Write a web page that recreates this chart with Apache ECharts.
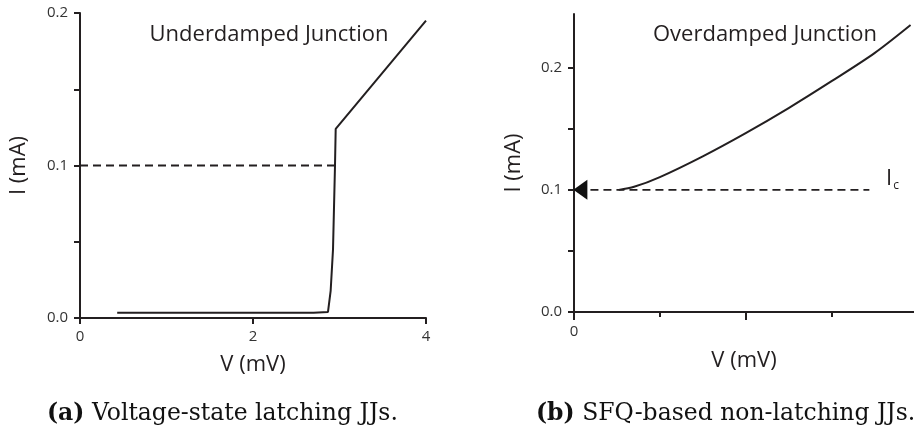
<!DOCTYPE html>
<html>
<head>
<meta charset="utf-8">
<script src="https://cdn.jsdelivr.net/npm/echarts@6/dist/echarts.min.js"></script>
<style>
  html, body { margin: 0; padding: 0; background: #fff; }
  #chart { width: 914px; height: 437px; }
</style>
</head>
<body>
<div id="chart"></div>
<script>
// (a) underdamped junction: I-V curve, V in mV, I in mA
var underCurve = [
  [0.43, 0.0035], [2.70, 0.0035], [2.70, 0.0040], [2.867, 0.0040],
  [2.898, 0.018], [2.925, 0.045], [2.948, 0.100], [2.956, 0.124],
  [4.00, 0.195]
];
var underIc = [[0, 0.1], [2.95, 0.1]];
var underXTicks = [0, 2, 4];
var underYTicks = [0, 0.05, 0.1, 0.15, 0.2];
var underYLabels = [0, 0.1, 0.2];

// (b) overdamped junction
var overCurve = [
  [0.26, 0.100], [0.35, 0.1025], [0.50, 0.1105], [0.75, 0.1275],
  [1.00, 0.1465], [1.25, 0.167], [1.50, 0.189], [1.75, 0.212],
  [1.96, 0.235]
];
var overIc = [[0.02, 0.1], [1.72, 0.1]];
var overArrow = [[0.037, 0.1]];
var overXMajor = [0, 1];
var overXMinor = [0.5, 1.5];
var overXLabels = [0];
var overYTicks = [0, 0.05, 0.1, 0.15, 0.2];
var overYLabels = [0, 0.1, 0.2];

var ink = "#231f20";
var sans = "Open Sans";

function axisBase() {
  return {
    axisLine: { show: true, onZero: false, lineStyle: { color: ink, width: 2 } },
    axisTick: { show: true, length: 6, lineStyle: { color: ink, width: 2 } },
    splitLine: { show: false },
    axisLabel: { color: "#333", fontFamily: sans, fontSize: 15, margin: 12 },
    nameTextStyle: { color: ink, fontFamily: sans, fontSize: 22 }
  };
}

function merge(a, b) {
  for (var k in b) {
    if (b[k] && typeof b[k] === "object" && !Array.isArray(b[k]) && a[k]) {
      a[k] = merge(Object.assign({}, a[k]), b[k]);
    } else {
      a[k] = b[k];
    }
  }
  return a;
}

var chart = echarts.init(document.getElementById("chart"));
var option = {
  backgroundColor: "#fff",
  animation: false,
  grid: [
    { left: 80, top: 13, width: 346, height: 305 },
    { left: 574, top: 14, width: 345, height: 298 }
  ],
  xAxis: [
    merge(axisBase(), {
      type: "value", gridIndex: 0, min: 0, max: 4,
      name: "V (mV)", nameLocation: "middle", nameGap: 36,
      axisTick: { customValues: underXTicks },
      axisLabel: { customValues: underXTicks, margin: 11 }
    }),
    merge(axisBase(), {
      type: "value", gridIndex: 1, min: 0, max: 1.98,
      name: "V (mV)", nameLocation: "middle", nameGap: 38,
      axisTick: { customValues: overXMajor, length: 8 },
      axisLabel: { customValues: overXLabels, margin: 12 }
    }),
    merge(axisBase(), {
      type: "value", gridIndex: 1, min: 0, max: 1.98, position: "bottom",
      axisLine: { show: false },
      axisTick: { customValues: overXMinor, length: 5 },
      axisLabel: { show: false }
    })
  ],
  yAxis: [
    merge(axisBase(), {
      type: "value", gridIndex: 0, min: 0, max: 0.2,
      name: "I (mA)", nameLocation: "middle", nameGap: 50,
      axisTick: { customValues: underYTicks },
      axisLabel: {
        customValues: underYLabels,
        formatter: function (v) { return v.toFixed(1); }
      }
    }),
    merge(axisBase(), {
      type: "value", gridIndex: 1, min: 0, max: 0.244,
      name: "I (mA)", nameLocation: "middle", nameGap: 49,
      axisTick: { customValues: overYTicks },
      axisLabel: {
        customValues: overYLabels,
        formatter: function (v) { return v.toFixed(1); }
      }
    })
  ],
  title: [
    {
      text: "Underdamped Junction", left: 264, top: 19, textAlign: "center",
      textStyle: { color: ink, fontFamily: sans, fontSize: 22, fontWeight: "normal" }
    },
    {
      text: "Overdamped Junction", left: 760, top: 19, textAlign: "center",
      textStyle: { color: ink, fontFamily: sans, fontSize: 22, fontWeight: "normal" }
    }
  ],
  graphic: [
    {
      type: "text", left: 886, top: 168,
      style: {
        text: "{i|I}{c|c}",
        rich: {
          i: { fontFamily: sans, fontSize: 22, fill: ink },
          c: { fontFamily: sans, fontSize: 12, fill: ink, padding: [13, 0, 0, 1] }
        }
      }
    },
    {
      type: "text", left: 47, top: 402,
      style: {
        text: "{b|(a)} Voltage-state latching JJs.",
        fontFamily: "DejaVu Serif", fontSize: 23.5, fill: "#111",
        rich: { b: { fontFamily: "DejaVu Serif", fontSize: 23.5, fontWeight: "bold", fill: "#111" } }
      }
    },
    {
      type: "text", left: 536, top: 402,
      style: {
        text: "{b|(b)} SFQ-based non-latching JJs.",
        fontFamily: "DejaVu Serif", fontSize: 23.5, fill: "#111",
        rich: { b: { fontFamily: "DejaVu Serif", fontSize: 23.5, fontWeight: "bold", fill: "#111" } }
      }
    }
  ],
  series: [
    {
      type: "line", xAxisIndex: 0, yAxisIndex: 0, data: underCurve,
      showSymbol: false, symbol: "none",
      lineStyle: { color: ink, width: 2 }
    },
    {
      type: "line", xAxisIndex: 0, yAxisIndex: 0, data: underIc,
      showSymbol: false, symbol: "none",
      lineStyle: { color: ink, width: 1.8, type: [8, 5] }
    },
    {
      type: "line", xAxisIndex: 1, yAxisIndex: 1, data: overCurve,
      showSymbol: false, symbol: "none", smooth: 0.3,
      lineStyle: { color: ink, width: 2 }
    },
    {
      type: "line", xAxisIndex: 1, yAxisIndex: 1, data: overIc,
      showSymbol: false, symbol: "none",
      lineStyle: { color: ink, width: 1.8, type: [8, 5] }
    },
    {
      type: "scatter", xAxisIndex: 1, yAxisIndex: 1, data: overArrow,
      symbol: "triangle", symbolSize: [20, 14], symbolRotate: 90,
      itemStyle: { color: "#111", opacity: 1 }, z: 5
    }
  ]
};
chart.setOption(option);
</script>
</body>
</html>
